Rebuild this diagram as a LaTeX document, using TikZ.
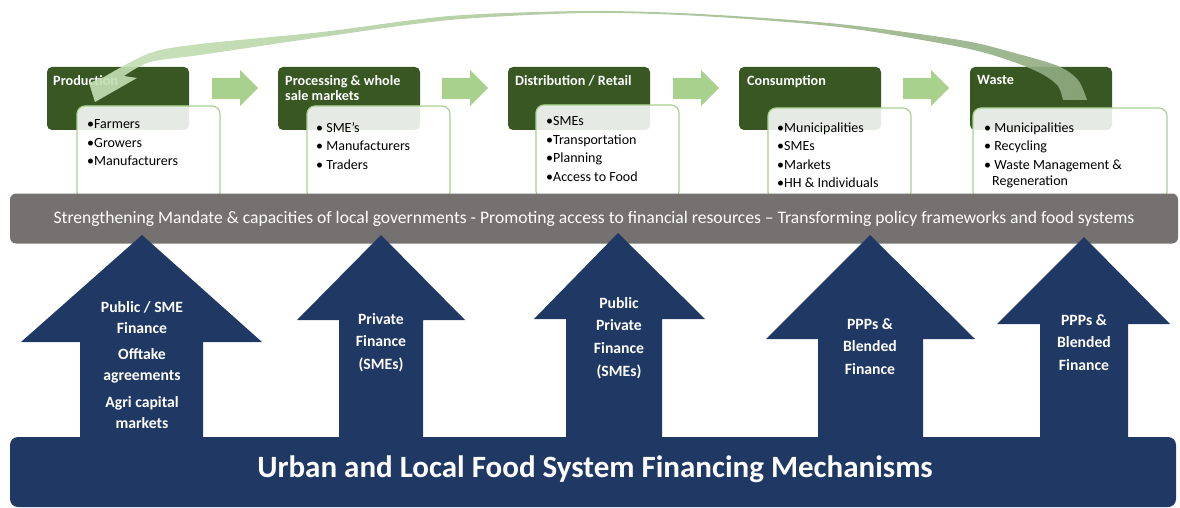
\documentclass[tikz,border=0pt]{standalone}
\usepackage{fontspec}
\setmainfont{Carlito}
\definecolor{hdrgreen}{HTML}{385723}
\definecolor{lightgreen}{HTML}{A9D18E}
\definecolor{bandgray}{HTML}{767171}
\definecolor{navy}{HTML}{203864}
\definecolor{curveL}{HTML}{C5E0B4}
\definecolor{curveR}{HTML}{8FAB80}
\tikzset{
  hdrbox/.style={fill=hdrgreen, rounded corners=5pt, minimum width=142pt, minimum height=63pt, inner sep=0pt},
  hdrtitle/.style={text=white, font=\bfseries\fontsize{14.2}{15}\selectfont, inner sep=0pt, align=left},
  listbox/.style={fill=white, fill opacity=0.88, draw=lightgreen, line width=1.2pt, rounded corners=8pt, inner sep=0pt},
  listtext/.style={text=black, font=\fontsize{14}{18.5}\selectfont, inner sep=0pt, align=left, anchor=north west},
  flowarrow/.style={fill=lightgreen},
  uparrow/.style={fill=navy},
  arrlabel/.style={text=white, font=\bfseries\fontsize{15.7}{22.6}\selectfont, inner sep=0pt, align=center, anchor=north},
}
\begin{document}
\begin{tikzpicture}[x=1pt,y=-1pt]
\useasboundingbox (0,0) rectangle (1180,508);

% header boxes
\node[hdrbox] (hProd) at (118,98.5) {};
\node[hdrbox] (hProc) at (349,98.5) {};
\node[hdrbox] (hDist) at (579,98.5) {};
\node[hdrbox] (hCons) at (810,98.5) {};
\node[hdrbox] (hWaste) at (1041,98.5) {};

\node[hdrtitle, anchor=north west] (tProd) at (53,75.5) {Production};
\node[hdrtitle, anchor=north west] (tProc) at (285,75.5) {Processing \& whole\\sale markets};
\node[hdrtitle, anchor=north west] (tDist) at (515,75.5) {Distribution / Retail};
\node[hdrtitle, anchor=north west] (tCons) at (747,75.5) {Consumption};
\node[hdrtitle, anchor=north west] (tWaste) at (977,75.5) {Waste};

% flow arrows
\foreach \a in {212,442,673,903}{
  \fill[flowarrow] (\a,78) -- (\a+28,78) -- (\a+28,70) -- (\a+46,88) -- (\a+28,106) -- (\a+28,99) -- (\a,99) -- cycle;
}

% curved return arrow
\shade[left color=curveL, right color=curveR, opacity=0.9]
  plot[smooth] coordinates {(1087,100) (1078,80) (1058,66) (1011,52) (960,40) (839,24) (700,14) (586,11) (450,16) (322,32) (200,44) (150,53) (104,77)}
  -- (89,83) -- (95,102) -- (137,78) -- (124,76)
  -- plot[smooth] coordinates {(124,76) (150,62) (200,55) (322,37) (450,20) (586,13) (700,16) (839,27) (960,47) (1011,61) (1042,74) (1058,86) (1063,100)}
  -- cycle;

% list boxes
\node[listbox, minimum width=143pt, minimum height=94pt] (lProd) at (148.5,153) {};
\node[listbox, minimum width=143pt, minimum height=94pt] (lProc) at (378.5,153) {};
\node[listbox, minimum width=143pt, minimum height=94pt] (lDist) at (607.5,152) {};
\node[listbox, minimum width=143pt, minimum height=92pt] (lCons) at (839.5,154) {};
\node[listbox, minimum width=194pt, minimum height=92pt] (lWaste) at (1070,154) {};

\node[listtext] (xProd) at (87,119.5) {•Farmers\\•Growers\\•Manufacturers};
\node[listtext] (xProc) at (316,122) {• SME's\\• Manufacturers\\• Traders};
\node[listtext] (xDist) at (546,116.5) {•SMEs\\•Transportation\\•Planning\\•Access to Food};
\node[listtext] (xCons) at (777,122.5) {•Municipalities\\•SMEs\\•Markets\\•HH \& Individuals};
\node[listtext] (xWaste) at (984,122.5) {• Municipalities\\• Recycling\\• Waste Management \&};
\node[listtext] (xWaste2) at (992,176) {Regeneration};

% grey band
\node[fill=bandgray, rounded corners=6pt, minimum width=1168pt, minimum height=50pt, inner sep=0pt,
      text=white, font=\fontsize{17.6}{20}\selectfont] (band) at (594,218.5)
  {Strengthening Mandate \& capacities of local governments - Promoting access to financial resources – Transforming policy frameworks and food systems};

% bottom bar
\node[fill=navy, rounded corners=8pt, minimum width=1166pt, minimum height=70pt, inner sep=0pt] (base) at (593,472) {};
\node[text=white, font=\bfseries\fontsize{31}{34}\selectfont, inner sep=0pt] (baseText) at (595,469)
  {Urban and Local Food System Financing Mechanisms};

% up arrows
\fill[uparrow] (80,445) -- (80,342) -- (21,342) -- (142,235) -- (262,342) -- (203,342) -- (203,445) -- cycle;
\fill[uparrow] (339,445) -- (339,320) -- (297,320) -- (381,235) -- (465,320) -- (423,320) -- (423,445) -- cycle;
\fill[uparrow] (566,445) -- (566,319) -- (534,319) -- (618,233) -- (705,319) -- (662,319) -- (662,445) -- cycle;
\fill[uparrow] (818,445) -- (818,339) -- (766,339) -- (870,235) -- (975,339) -- (923,339) -- (923,445) -- cycle;
\fill[uparrow] (1040,445) -- (1040,324) -- (997,324) -- (1084,237) -- (1170,324) -- (1128,324) -- (1128,445) -- cycle;

\node[arrlabel, font=\bfseries\fontsize{15.7}{21}\selectfont] (a1) at (142,301) {Public / SME\\Finance\\[5.5pt]Offtake\\agreements\\[5.5pt]Agri capital\\markets};
\node[arrlabel] (a2) at (381,313) {Private\\Finance\\(SMEs)};
\node[arrlabel] (a3) at (619,297) {Public\\Private\\Finance\\(SMEs)};
\node[arrlabel] (a4) at (870,318) {PPPs \&\\Blended\\Finance};
\node[arrlabel] (a5) at (1084,314) {PPPs \&\\Blended\\Finance};
\end{tikzpicture}
\end{document}
